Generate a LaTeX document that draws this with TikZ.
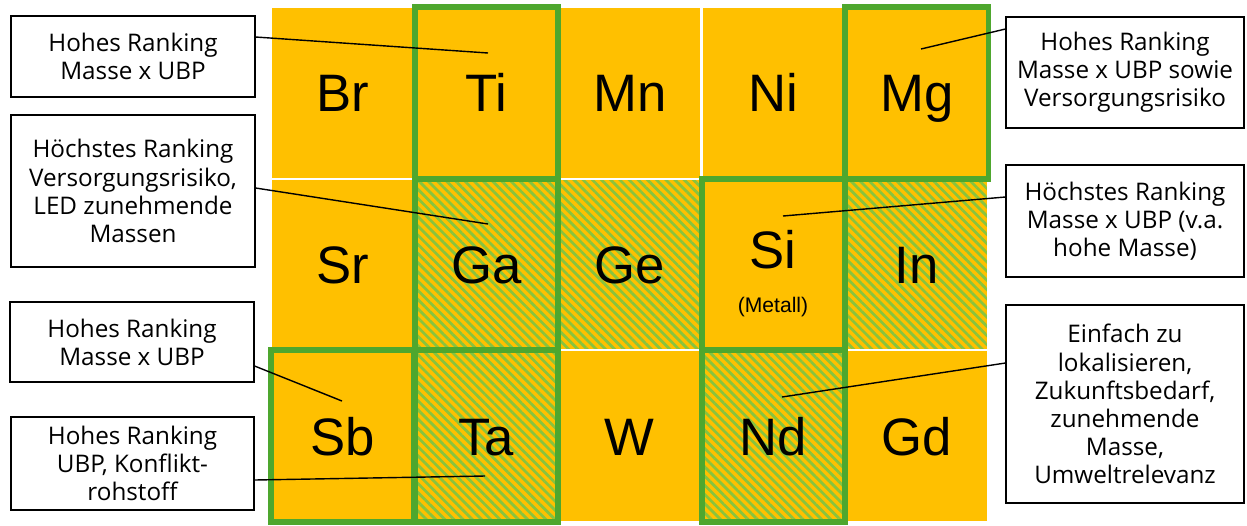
\documentclass[tikz,border=0pt]{standalone}
\usepackage{fontspec}
\setmainfont{Open Sans}
\newfontfamily\symfont{Liberation Sans}
\usepackage{tikz}
\usetikzlibrary{patterns.meta}
\definecolor{cellyellow}{RGB}{255, 192, 0}
\definecolor{framegreen}{RGB}{78, 167, 46}
\definecolor{hatchgreen}{RGB}{135, 196, 62}

\begin{document}
\begin{tikzpicture}[x=0.02cm, y=-0.02cm,
    cell/.style={rectangle, fill=cellyellow, draw=white, line width=1.2pt, minimum width=2.87cm, minimum height=3.434cm, inner sep=0pt, outer sep=0pt, text height=21.5pt, text depth=0pt, font=\symfont\fontsize{30}{36}\selectfont},
    hatched/.style={fill=none, preaction={fill=cellyellow}, preaction={pattern={Lines[angle=-45, distance=0.13cm, line width=0.055cm]}, pattern color=hatchgreen}},
    greenbox/.style={draw=framegreen, line width=0.12cm},
    callout/.style={rectangle, draw=black, line width=0.7pt, fill=white, align=center, inner sep=2pt, font=\fontsize{13.8}{16}\selectfont},
    leader/.style={draw=black, line width=0.8pt}
]
    \useasboundingbox (0,0) rectangle (1247,525);

    % Element cells
    \foreach \nm/\sym/\col/\row in {br/Br/1/1, ti/Ti/2/1, mn/Mn/3/1, ni/Ni/4/1, mg/Mg/5/1, sr/Sr/1/2, si/{}/4/2, sb/Sb/1/3, w/W/3/3, gd/Gd/5/3}
        \node[cell] (cell-\nm) at ({271+143.5*(\col-0.5)}, {7+171.7*(\row-0.5)}) {\sym};
    \foreach \nm/\sym/\col/\row in {ga/Ga/2/2, ge/Ge/3/2, in/In/5/2, ta/Ta/2/3, nd/Nd/4/3}
        \node[cell, hatched] (cell-\nm) at ({271+143.5*(\col-0.5)}, {7+171.7*(\row-0.5)}) {\sym};

    % Silicon
    \node[font=\symfont\fontsize{30}{36}\selectfont] (siSym) at (773, 250) {Si};
    \node[font=\symfont\fontsize{12}{14}\selectfont] (siNote) at (773, 307) {(Metall)};

    % Green frames
    \foreach \nm in {ti, mg, ga, si, sb, ta, nd}
        \draw[greenbox] (cell-\nm.north west) rectangle (cell-\nm.south east);

    % Callouts left
    \node[callout, minimum width=4.88cm, minimum height=1.62cm] (hiA) at (133, 56.5) {Hohes Ranking\\Masse x UBP};
    \node[callout, minimum width=4.88cm, minimum height=3.04cm] (hiB) at (133, 191) {Höchstes Ranking\\Versorgungsrisiko,\\LED zunehmende\\Massen};
    \node[callout, minimum width=4.88cm, minimum height=1.6cm] (hiC) at (132, 342) {Hohes Ranking\\Masse x UBP};
    \node[callout, minimum width=4.86cm, minimum height=1.86cm] (hiD) at (132.5, 463.5) {Hohes Ranking\\UBP, Konflikt-\\rohstoff};

    % Callouts right
    \node[callout, minimum width=4.76cm, minimum height=2.22cm] (hiE) at (1125, 72.5) {Hohes Ranking\\Masse x UBP sowie\\Versorgungsrisiko};
    \node[callout, minimum width=4.76cm, minimum height=2.24cm] (hiF) at (1125, 221) {Höchstes Ranking\\Masse x UBP (v.a.\\hohe Masse)};
    \node[callout, minimum width=4.76cm, minimum height=3.96cm] (hiG) at (1125, 404) {Einfach zu\\lokalisieren,\\Zukunftsbedarf,\\zunehmende\\Masse,\\Umweltrelevanz};

    % Leader ends
    \coordinate (ptTi) at (488, 53);
    \coordinate (ptGa) at (488, 224);
    \coordinate (ptSb) at (342, 401);
    \coordinate (ptTa) at (485, 476);
    \coordinate (ptMg) at (921, 49);
    \coordinate (ptSi) at (783, 216);
    \coordinate (ptNd) at (782, 397);

    % Leaders
    \draw[leader] ([yshift=0.39cm]hiA.east) -- (ptTi);
    \draw[leader] ([yshift=0.06cm]hiB.east) -- (ptGa);
    \draw[leader] ([yshift=-0.48cm]hiC.east) -- (ptSb);
    \draw[leader] ([yshift=-0.33cm]hiD.east) -- (ptTa);
    \draw[leader] ([yshift=0.87cm]hiE.west) -- (ptMg);
    \draw[leader] ([yshift=0.48cm]hiF.west) -- (ptSi);
    \draw[leader] ([yshift=0.82cm]hiG.west) -- (ptNd);

\end{tikzpicture}
\end{document}
